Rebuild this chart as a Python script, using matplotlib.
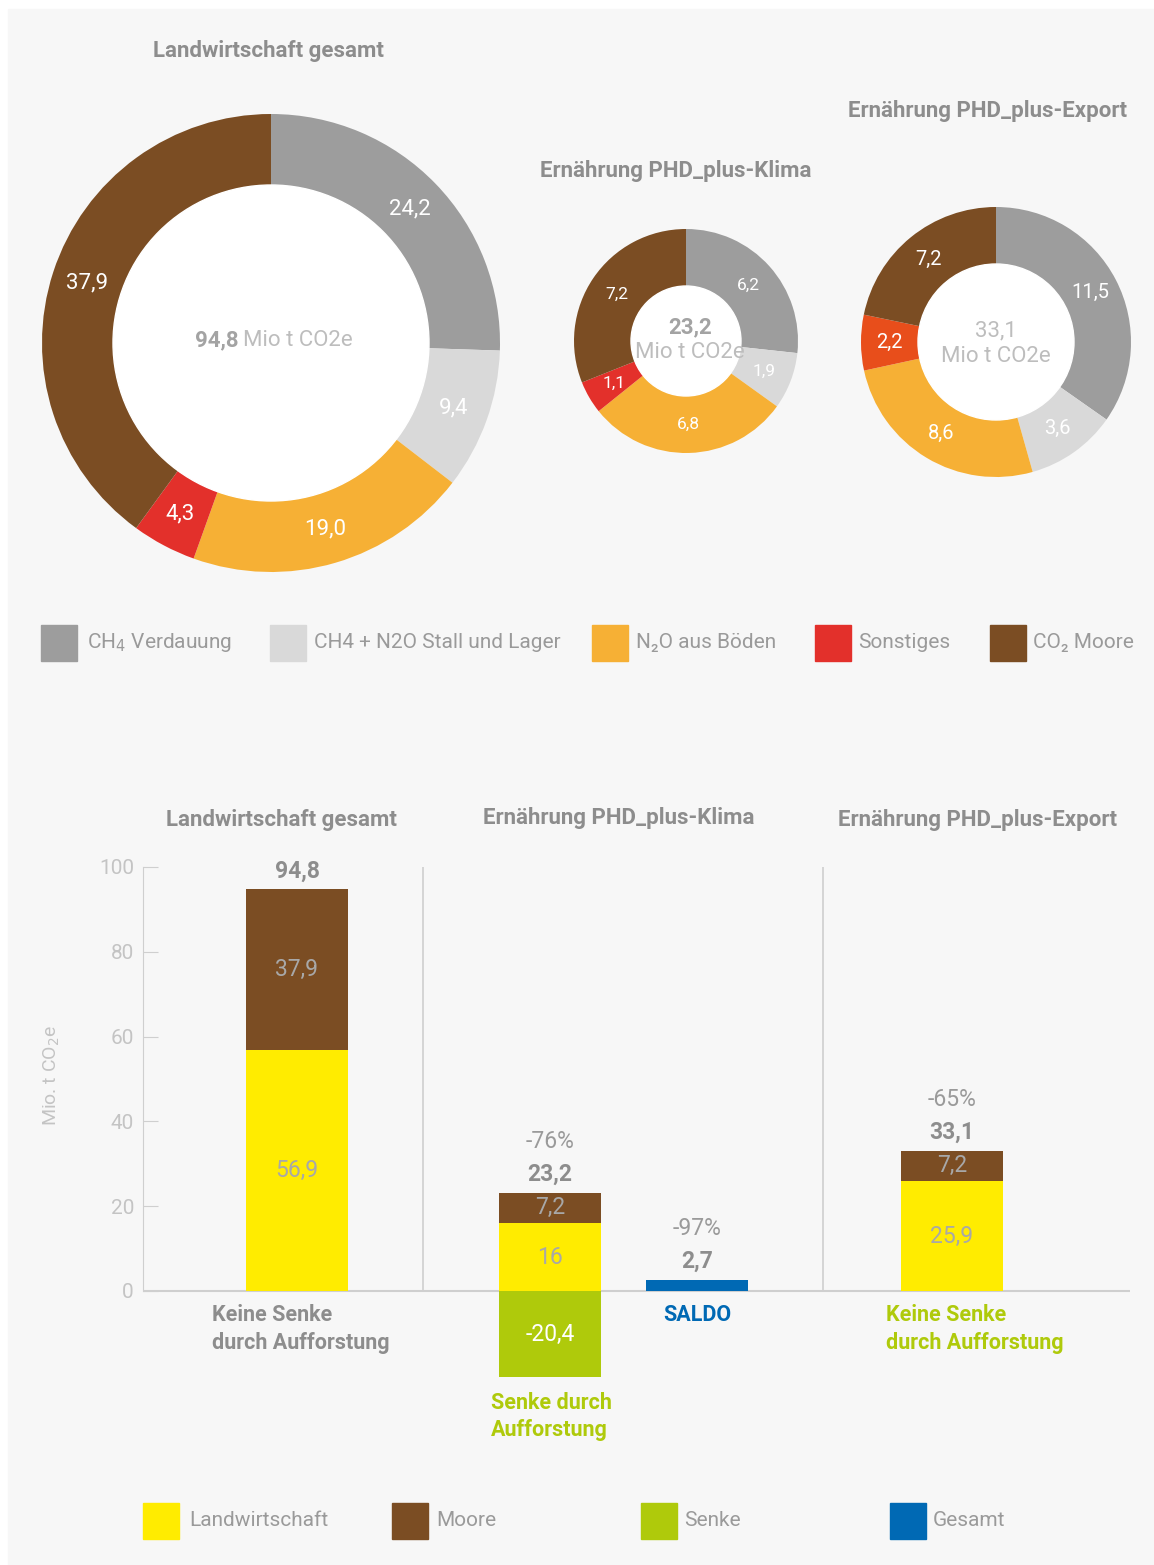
import matplotlib
matplotlib.use("Agg")
import matplotlib.pyplot as plt
from matplotlib.patches import Rectangle, Circle

# --- data -------------------------------------------------------------
sources = ["CH$_4$ Verdauung", "CH4 + N2O Stall und Lager", "N₂O aus Böden",
           "Sonstiges", "CO₂ Moore"]
gesamt = [24.2, 9.4, 19.0, 4.3, 37.9]
klima = [6.2, 1.9, 6.8, 1.1, 7.2]
export = [11.5, 3.6, 8.6, 2.2, 7.2]
pie_titles = ["Landwirtschaft gesamt", "Ernährung PHD_plus-Klima",
              "Ernährung PHD_plus-Export"]

bar_groups = ["Landwirtschaft", "Moore", "Senke", "Gesamt"]
landwirtschaft = [56.9, 16.0, 0, 25.9]
moore = [37.9, 7.2, 0, 7.2]
senke = [0, -20.4, 0, 0]
saldo = [0, 0, 2.7, 0]
totals = [94.8, 23.2, 2.7, 33.1]
changes = ["", "-76%", "-97%", "-65%"]
bar_labels = ["Keine Senke\ndurch Aufforstung", "Senke durch\nAufforstung",
              "SALDO", "Keine Senke\ndurch Aufforstung"]

# --- style ------------------------------------------------------------
LIGHT = ["Roboto", "DejaVu Sans"]
BOLD = ["Roboto", "DejaVu Sans"]
plt.rcParams["font.family"] = LIGHT

GRAY = "#9d9d9d"
LGRAY = "#d9d9d9"
ORANGE = "#f6b035"
RED = "#e3302b"
RED2 = "#e84e1b"
BROWN = "#7b4d23"
YELLOW = "#ffec00"
GREEN = "#afca0b"
BLUE = "#0069b4"
TXT = "#9a9a9a"
TITLE = "#8d8d8d"
AX = "#cfcfcf"

W, H = 1154, 1565


def fmt(v):
    return f"{v:g}".replace(".", ",")


fig = plt.figure(figsize=(W / 100, H / 100), dpi=100)
fig.patch.set_facecolor("white")

# overlay in pixel units, y counted upward
ov = fig.add_axes([0, 0, 1, 1], zorder=0)
ov.add_patch(Rectangle((8, 0), W - 8, H - 9, color="#f7f7f7", zorder=0))

# donuts: center (px), outer radius, inner radius, label size
pies = [
    (gesamt, (271, 343), 229, 158, 16, [GRAY, LGRAY, ORANGE, RED, BROWN]),
    (klima, (686, 341), 112, 55, 12.5, [GRAY, LGRAY, ORANGE, RED, BROWN]),
    (export, (996, 342), 135, 78, 14.5, [GRAY, LGRAY, ORANGE, RED2, BROWN]),
]
for vals, (cx, cy), r, ri, fs, cols in pies:
    ov.pie(vals, colors=cols, center=(cx, H - cy), radius=r, startangle=90,
           counterclock=False, wedgeprops=dict(linewidth=0),
           autopct=lambda p, v=vals: f"{p * sum(v) / 100:.1f}".replace(".", ","),
           pctdistance=(r + ri) / 2 / r,
           textprops=dict(color="white", fontsize=fs))
    ov.add_patch(Circle((cx, H - cy), ri, color="white", zorder=3))

# centre texts
ov.text(239, H - 340, "94,8", ha="right", va="center", fontsize=16,
        fontweight="bold", family=BOLD, color="#a3a3a3", zorder=4)
ov.text(243, H - 340, "Mio t CO2e", ha="left", va="center", fontsize=16,
        color="#bdbdbd", zorder=4)
ov.text(690, H - 327, "23,2", ha="center", va="center", fontsize=16,
        fontweight="bold", family=BOLD, color="#a3a3a3", zorder=4)
ov.text(690, H - 353, "Mio t CO2e", ha="center", va="center", fontsize=16,
        color="#bdbdbd", zorder=4)
ov.text(996, H - 331, "33,1", ha="center", va="center", fontsize=16,
        color="#bdbdbd", zorder=4)
ov.text(996, H - 356, "Mio t CO2e", ha="center", va="center", fontsize=16,
        color="#bdbdbd", zorder=4)

# pie titles
for t, (x, y) in zip(pie_titles, [(268, 51), (676, 171), (988, 111)]):
    ov.text(x, H - y, t, ha="center", va="center", fontsize=16,
            fontweight="bold", family=BOLD, color=TITLE)

# top legend
top_cols = [GRAY, LGRAY, ORANGE, RED, BROWN]
for lab, col, xs, xt in zip(sources, top_cols, [41, 270, 592, 815, 990],
                            [87, 314, 636, 858, 1033]):
    ov.add_patch(Rectangle((xs, H - 661), 36, 36, color=col))
    ov.text(xt, H - 643, lab, ha="left", va="center", fontsize=15, color=TXT)

# bottom titles
for t, (x, y) in zip(pie_titles, [(281, 820), (619, 818), (977, 820)]):
    ov.text(x, H - y, t, ha="center", va="center", fontsize=16,
            fontweight="bold", family=BOLD, color=TITLE)

# bottom legend
bot_cols = [YELLOW, BROWN, GREEN, BLUE]
for lab, col, xs, xt in zip(bar_groups, bot_cols, [143, 392, 641, 890],
                            [189, 436, 684, 933]):
    ov.add_patch(Rectangle((xs, H - 1539), 36, 36, color=col))
    ov.text(xt, H - 1521, lab, ha="left", va="center", fontsize=15, color=TXT)

ov.set_xlim(0, W)
ov.set_ylim(0, H)
ov.set_aspect("auto")
ov.axis("off")

# --- bar chart --------------------------------------------------------
y0, ppu = 1291, 4.24          # px of zero line, px per unit
ymin, ymax = -26, 100
bot_px = y0 - ymin * ppu
top_px = y0 - ymax * ppu
ax = fig.add_axes([143 / W, (H - bot_px) / H, 987 / W, (bot_px - top_px) / H],
                  zorder=1)
ax.patch.set_alpha(0)
xpos = [297, 550, 697, 952]
bw = 102

ax.bar(xpos, landwirtschaft, bw, color=YELLOW, linewidth=0)
ax.bar(xpos, moore, bw, bottom=landwirtschaft, color=BROWN, linewidth=0)
ax.bar(xpos, senke, bw, color=GREEN, linewidth=0)
ax.bar(xpos, saldo, bw, color=BLUE, linewidth=0)

for x, lw, mo, se, tot, ch in zip(xpos, landwirtschaft, moore, senke,
                                  totals, changes):
    if lw:
        ax.text(x, lw / 2, fmt(lw), ha="center", va="center", fontsize=16.5,
                color="#a8a8a8")
    if mo:
        ax.text(x, lw + mo / 2, fmt(mo), ha="center", va="center",
                fontsize=16.5, color="#a8a8a8")
    if se:
        ax.text(x, se / 2, fmt(se), ha="center", va="center", fontsize=16.5,
                color="white")
    ax.annotate(fmt(tot), (x, tot), xytext=(0, 13), textcoords="offset points",
                ha="center", va="center", fontsize=16.5, fontweight="bold",
                family=BOLD, color=TITLE)
    if ch:
        ax.annotate(ch, (x, tot), xytext=(0, 37), textcoords="offset points",
                    ha="center", va="center", fontsize=16.5, color=TXT)

lab_pos = [(301, -9.0, TITLE), (551, -29.6, GREEN), (697, -5.6, BLUE),
           (975, -9.0, GREEN)]
for lab, (x, y, c) in zip(bar_labels, lab_pos):
    ax.text(x, y, lab, ha="center", va="center", multialignment="left",
            fontsize=15.5, fontweight="bold", family=BOLD, color=c,
            linespacing=1.35)

ax.axhline(0, color=AX, linewidth=1.5, zorder=0.5)
ax.vlines([423, 823], 0, 100, color=AX, linewidth=1.2)
ax.set_xlim(143, 1130)
ax.set_ylim(ymin, ymax)
ax.set_yticks([0, 20, 40, 60, 80, 100])
ax.set_xticks([])
for s in ["top", "right", "bottom"]:
    ax.spines[s].set_visible(False)
ax.spines["left"].set_bounds(0, 100)
ax.spines["left"].set_color(AX)
ax.tick_params(axis="y", direction="in", length=11, color=AX, pad=6.5,
               labelsize=15, labelcolor="#c4c4c4")
ax.set_ylabel("Mio. t CO$_2$e", fontsize=14, color="#c4c4c4")
ax.yaxis.set_label_coords((62 - 143) / 987, (bot_px - 1075) / (bot_px - top_px))

fig.savefig("out.png", dpi=100, facecolor=fig.get_facecolor())
